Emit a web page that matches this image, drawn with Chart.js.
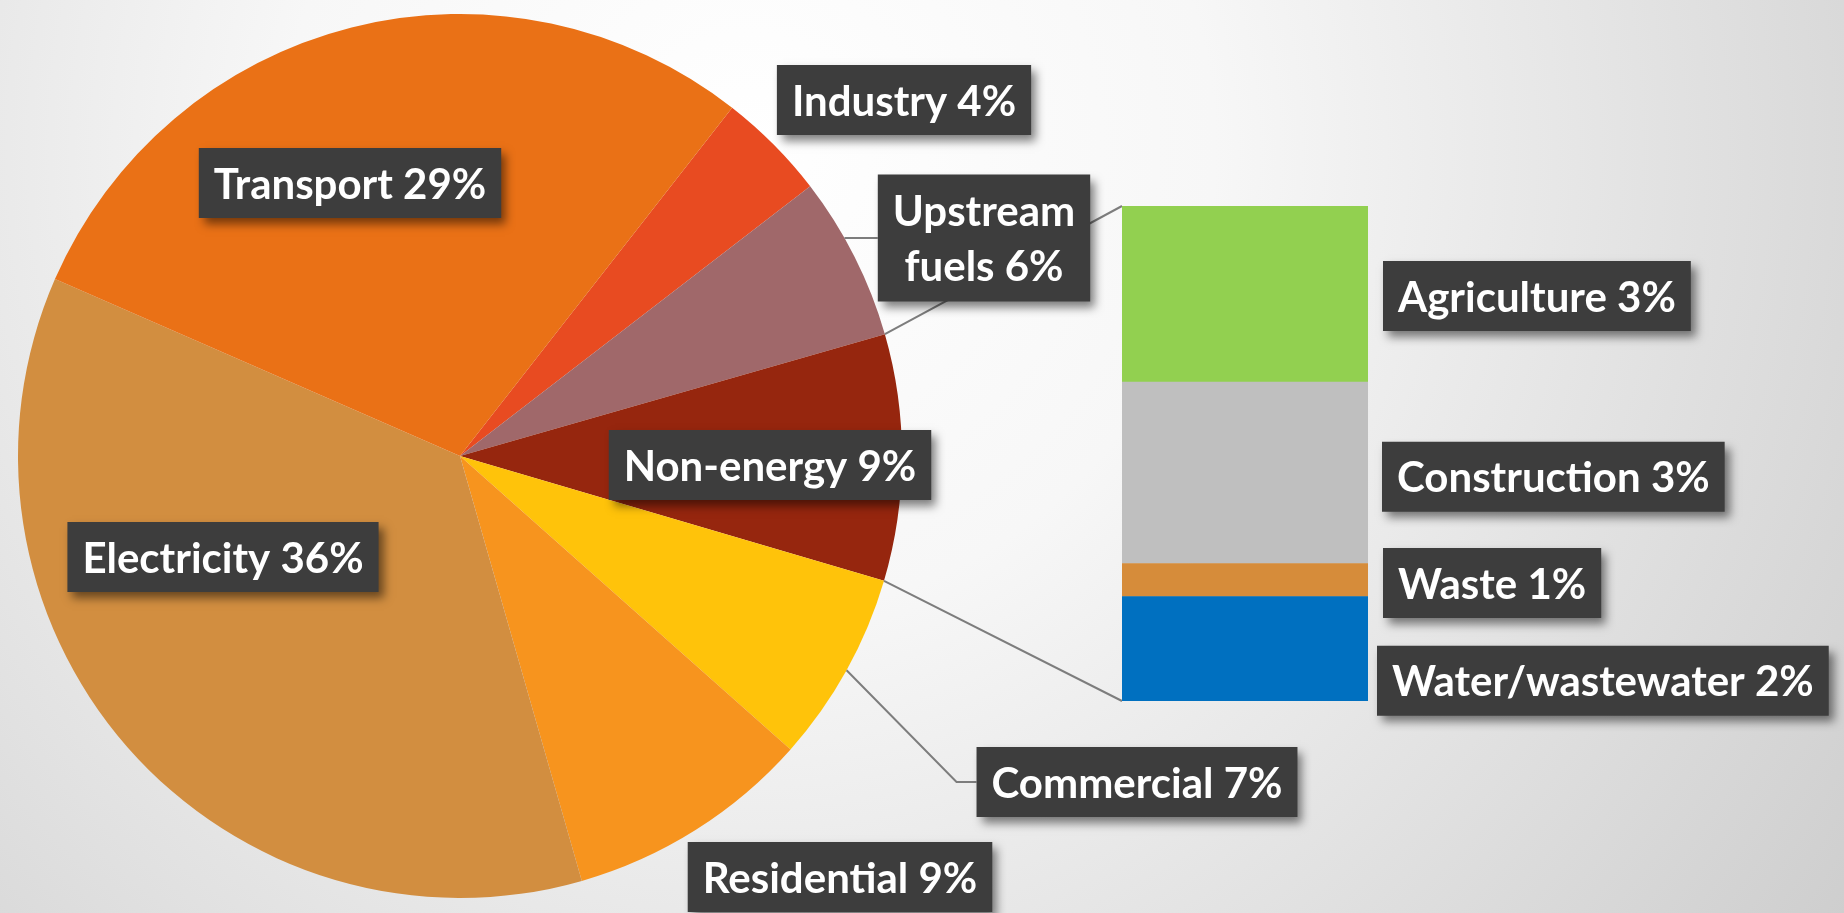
<!DOCTYPE html>
<html><head><meta charset="utf-8">
<script src="https://cdn.jsdelivr.net/npm/chart.js@4.4.0/dist/chart.umd.min.js"></script>
<style>
html,body{margin:0;padding:0;width:1844px;height:913px;overflow:hidden;background:#e6e6e6;}
canvas{position:absolute;left:0;top:0;}
</style></head><body>
<canvas id="pie" width="1844" height="913"></canvas>
<canvas id="bar" width="1844" height="913"></canvas>
<script>
// ---- data ----
const pieLabels = ['Industry', 'Upstream fuels', 'Non-energy', 'Commercial', 'Residential', 'Electricity', 'Transport'];
const pieValues = [4, 6, 9, 7, 9, 36, 29];
const barLabels = ['Water/wastewater', 'Waste', 'Construction', 'Agriculture'];
const barValues = [1.9, 0.6, 3.3, 3.2];
const splitSlice = 'Non-energy';

// ---- styles / layout ----
const pieColors = ['#E84B21', '#A0686A', '#96260E', '#FFC30A', '#F7941E', '#D28E40', '#EA7116'];
const barColors = ['#0070C0', '#D68C3A', '#BFBFBF', '#92D050'];
const FONT = 'bold 42px Lato';
const BOX_FILL = '#3d3d3d';
const PAD_X = 15, BOX_H = 70, LINE_H = 55;
const pieLabelLayout = {
  'Industry':       {cx: 904, cy: 100},
  'Upstream fuels': {cx: 984, cy: 238, wrap: true, leader: 'horizontal'},
  'Non-energy':     {cx: 770, cy: 465},
  'Commercial':     {cx: 1137, cy: 782, leader: 'elbow'},
  'Residential':    {cx: 840, cy: 877},
  'Electricity':    {cx: 223, cy: 557},
  'Transport':      {cx: 350, cy: 183}
};
const barLabelLayout = {
  'Agriculture':      {left: 1383, dy: 2},
  'Construction':     {left: 1382, dy: 4},
  'Waste':            {left: 1383, dy: 3},
  'Water/wastewater': {left: 1377, dy: 32}
};

const pieTotal = pieValues.reduce((a, b) => a + b, 0);
const barTotal = barValues.reduce((a, b) => a + b, 0);
const pct = v => Math.round(v / pieTotal * 100) + '%';

function drawBox(ctx, lines, cx, cy, left) {
  ctx.save();
  ctx.font = FONT;
  const tw = Math.max(...lines.map(l => ctx.measureText(l).width));
  const w = tw + 2 * PAD_X;
  const h = lines.length === 1 ? BOX_H : BOX_H + LINE_H * (lines.length - 1) + 2;
  const x = left !== undefined ? left : cx - w / 2;
  const y = cy - h / 2;
  ctx.shadowColor = 'rgba(0,0,0,0.5)';
  ctx.shadowBlur = 9;
  ctx.shadowOffsetX = 5;
  ctx.shadowOffsetY = 6;
  ctx.fillStyle = BOX_FILL;
  ctx.fillRect(x, y, w, h);
  ctx.shadowColor = 'transparent';
  ctx.fillStyle = '#ffffff';
  ctx.textAlign = 'center';
  ctx.textBaseline = 'middle';
  const firstY = cy - (LINE_H * (lines.length - 1)) / 2 + 2;
  lines.forEach((l, i) => ctx.fillText(l, x + w / 2, firstY + i * LINE_H));
  ctx.restore();
  return {x, y, w, h};
}

const bgPlugin = {
  id: 'bg',
  beforeDraw(chart) {
    const ctx = chart.ctx;
    const g = ctx.createRadialGradient(750, 150, 0, 750, 150, 1550);
    g.addColorStop(0, '#ffffff');
    g.addColorStop(0.3, '#f7f7f7');
    g.addColorStop(1, '#c4c4c4');
    ctx.save();
    ctx.fillStyle = g;
    ctx.fillRect(0, 0, chart.width, chart.height);
    ctx.restore();
  }
};

const pieChart = new Chart(document.getElementById('pie'), {
  type: 'pie',
  data: {
    labels: pieLabels,
    datasets: [{data: pieValues, backgroundColor: pieColors, borderWidth: 0}]
  },
  options: {
    responsive: false,
    animation: false,
    rotation: 38,
    layout: {padding: {left: 18, right: 942, top: 14, bottom: 15}},
    plugins: {legend: {display: false}, tooltip: {enabled: false}}
  },
  plugins: [bgPlugin]
});

const overlayPlugin = {
  id: 'overlay',
  beforeDatasetsDraw(chart) {
    const ctx = chart.ctx;
    const arcs = pieChart.getDatasetMeta(0).data;
    const split = arcs[pieLabels.indexOf(splitSlice)];
    const top = chart.getDatasetMeta(barValues.length - 1).data[0];
    const bottom = chart.getDatasetMeta(0).data[0];
    const barLeft = top.x - top.width / 2;
    ctx.save();
    ctx.strokeStyle = '#7d7d7d';
    ctx.lineWidth = 2;
    ctx.beginPath();
    ctx.moveTo(split.x + split.outerRadius * Math.cos(split.startAngle), split.y + split.outerRadius * Math.sin(split.startAngle));
    ctx.lineTo(barLeft, top.y);
    ctx.moveTo(split.x + split.outerRadius * Math.cos(split.endAngle), split.y + split.outerRadius * Math.sin(split.endAngle));
    ctx.lineTo(barLeft, bottom.base);
    ctx.stroke();
    ctx.restore();
  },
  afterDatasetsDraw(chart) {
    const ctx = chart.ctx;
    const arcs = pieChart.getDatasetMeta(0).data;
    // pie labels
    pieLabels.forEach((name, i) => {
      const lay = pieLabelLayout[name];
      const text = name + ' ' + pct(pieValues[i]);
      let lines = [text];
      if (lay.wrap) {
        const parts = text.split(' ');
        lines = [parts[0], parts.slice(1).join(' ')];
      }
      ctx.save();
      ctx.font = FONT;
      const tw = Math.max(...lines.map(l => ctx.measureText(l).width));
      ctx.restore();
      const boxLeft = lay.cx - (tw + 2 * PAD_X) / 2;
      const a = arcs[i];
      if (lay.leader === 'horizontal') {
        const dy = lay.cy - a.y;
        const ex = a.x + Math.sqrt(a.outerRadius * a.outerRadius - dy * dy);
        ctx.save();
        ctx.strokeStyle = '#7d7d7d'; ctx.lineWidth = 2;
        ctx.beginPath(); ctx.moveTo(ex, lay.cy); ctx.lineTo(boxLeft, lay.cy); ctx.stroke();
        ctx.restore();
      } else if (lay.leader === 'elbow') {
        const mid = (a.startAngle + a.endAngle) / 2;
        ctx.save();
        ctx.strokeStyle = '#7d7d7d'; ctx.lineWidth = 2;
        ctx.beginPath();
        ctx.moveTo(a.x + a.outerRadius * Math.cos(mid), a.y + a.outerRadius * Math.sin(mid));
        ctx.lineTo(boxLeft - 20, lay.cy);
        ctx.lineTo(boxLeft, lay.cy);
        ctx.stroke();
        ctx.restore();
      }
      drawBox(ctx, lines, lay.cx, lay.cy);
    });
    // bar labels
    barLabels.forEach((name, i) => {
      const el = chart.getDatasetMeta(i).data[0];
      const lay = barLabelLayout[name];
      const cy = (el.y + el.base) / 2 + lay.dy;
      drawBox(ctx, [name + ' ' + pct(barValues[i])], 0, cy, lay.left);
    });
  }
};

new Chart(document.getElementById('bar'), {
  type: 'bar',
  data: {
    labels: ['Other'],
    datasets: barLabels.map((name, i) => ({
      label: name, data: [barValues[i]], backgroundColor: barColors[i],
      borderWidth: 0, barPercentage: 1, categoryPercentage: 1
    }))
  },
  options: {
    responsive: false,
    animation: false,
    layout: {padding: {left: 1122, right: 476, top: 206, bottom: 212}},
    scales: {
      x: {display: false, stacked: true},
      y: {display: false, stacked: true, min: 0, max: barTotal}
    },
    plugins: {legend: {display: false}, tooltip: {enabled: false}}
  },
  plugins: [overlayPlugin]
});
</script>
</body></html>
